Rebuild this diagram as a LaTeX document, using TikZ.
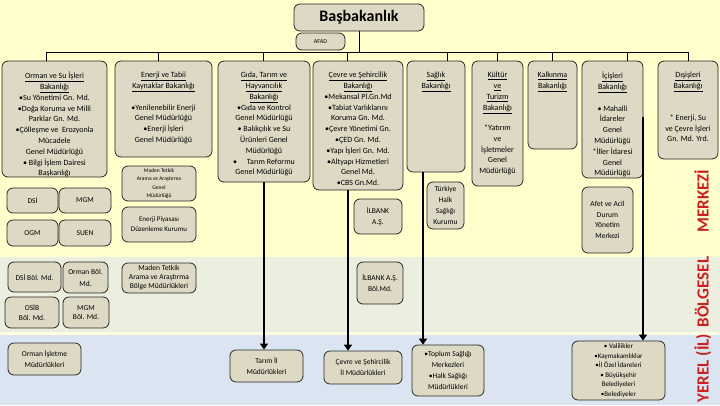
\documentclass[tikz,border=0pt]{standalone}
\usepackage{fontspec}
\setmainfont{Carlito}
\usetikzlibrary{arrows.meta}
\definecolor{bgY}{HTML}{FFFFCC}
\definecolor{bgG}{HTML}{ECEFE0}
\definecolor{bgB}{HTML}{DBE5F1}
\definecolor{bgL}{HTML}{FFFFE4}
\definecolor{boxF}{HTML}{DDD9C4}
\definecolor{lblR}{HTML}{CC2020}
\newcommand\uln[1]{\underline{#1}}
\begin{document}
\begin{tikzpicture}[x=1pt,y=-1pt,
  bx/.style={draw=black!85, fill=boxF, line width=0.8pt, rounded corners=6pt, inner sep=1pt, align=center, font=\fontsize{7.5}{9.5}\selectfont},
  txt/.style={inner sep=0pt, align=center, anchor=north, font=\fontsize{8}{10.8}\selectfont},
  bus/.style={draw=black, line width=0.8pt},
  flow/.style={draw=black, line width=2.6pt, -{Triangle[width=8pt,length=6pt]}},
  side/.style={rotate=90, anchor=base, text=lblR, font=\fontsize{17}{17}\selectfont\bfseries, inner sep=0pt}]
\useasboundingbox (0,0) rectangle (720,405);
% bands
\fill[bgY] (0,0) rectangle (720,257);
\fill[bgG] (0,257) rectangle (720,333);
\fill[bgB] (0,333) rectangle (720,405);
\fill[bgL] (0,332) rectangle (720,334.5);

% top
\node[bx, minimum width=130pt, minimum height=27pt, font=\fontsize{16}{16}\selectfont\bfseries] (basb) at (359,17.5) {Başbakanlık};
\node[bx, minimum width=49pt, minimum height=17pt, font=\fontsize{6}{7}\selectfont] (afad) at (320.5,41.5) {AFAD};

% ministries
\node[bx, minimum width=105pt, minimum height=116pt] (orman) at (54.5,119) {};
\node[bx, minimum width=97pt, minimum height=96pt] (enerji) at (163.5,109) {};
\node[bx, minimum width=92pt, minimum height=121pt] (gida) at (264,121.5) {};
\node[bx, minimum width=90pt, minimum height=129pt] (cevre) at (358,125.5) {};
\node[bx, minimum width=58pt, minimum height=111pt] (saglik) at (436,116.5) {};
\node[bx, minimum width=51pt, minimum height=125pt] (kultur) at (497.5,123.5) {};
\node[bx, minimum width=49pt, minimum height=88pt] (kalk) at (552.5,105) {};
\node[bx, minimum width=61pt, minimum height=117pt] (icis) at (612.5,119.5) {};
\node[bx, minimum width=60pt, minimum height=98pt] (disis) at (688,110) {};

\node[txt] (orman-t) at (54.5,72) {\uln{Orman ve Su İşleri}\\\uln{Bakanlığı}\\•Su Yönetimi Gn. Md.\\•Doğa Koruma ve Milli\\Parklar Gn. Md.\\•Çölleşme ve \ Erozyonla\\Mücadele\\Genel Müdürlüğü\\• Bilgi İşlem Dairesi\\Başkanlığı};
\node[txt] (enerji-t) at (163.5,72) {\uln{Enerji ve Tabii}\\\uln{Kaynaklar Bakanlığı}\\[10.8pt]•Yenilenebilir Enerji\\Genel Müdürlüğü\\•Enerji İşleri\\Genel Müdürlüğü};
\node[txt] (gida-t) at (264,72) {\uln{Gıda, Tarım ve}\\\uln{Hayvancılık}\\\uln{Bakanlığı}\\•Gıda ve Kontrol\\Genel Müdürlüğü\\• Balıkçılık ve Su\\Ürünleri Genel\\Müdürlüğü\\• \quad Tarım Reformu\\Genel Müdürlüğü};
\node[txt] (cevre-t) at (358,72) {\uln{Çevre ve Şehircilik}\\\uln{Bakanlığı}\\•Mekansal Pl.Gn.Md\\•Tabiat Varlıklarını\\Koruma Gn. Md.\\•Çevre Yönetimi Gn.\\•ÇED Gn. Md.\\•Yapı İşleri Gn. Md.\\•Altyapı Hizmetleri\\Genel Md.\\•CBS Gn.Md.};
\node[txt] (saglik-t) at (436,72) {\uln{Sağlık}\\\uln{Bakanlığı}};
\node[txt] (kultur-t) at (497.5,72) {\uln{Kültür}\\\uln{ve}\\\uln{Turizm}\\\uln{Bakanlığı}\\[9.5pt]*Yatırım\\ve\\İşletmeler\\Genel\\Müdürlüğü};
\node[txt] (kalk-t) at (552.5,72) {\uln{Kalkınma}\\\uln{Bakanlığı}};
\node[txt] (icis-t) at (612.5,72) {\uln{İçişleri}\\\uln{Bakanlığı}\\[10.8pt]• Mahalli\\İdareler\\Genel\\Müdürlüğü\\*İller İdaresi\\Genel\\Müdürlüğü};
\node[txt] (disis-t) at (688,72) {\uln{Dışişleri}\\\uln{Bakanlığı}\\[21pt]* Enerji, Su\\ve Çevre İşleri\\Gn. Md. Yrd.};

% second tier
\node[bx, minimum width=74pt, minimum height=35pt, font=\fontsize{5.5}{8.5}\selectfont] (maden1) at (159,183.5) {Maden Tetkik\\Arama ve Araştırma\\Genel\\Müdürlüğü};
\node[bx, minimum width=74pt, minimum height=35pt, font=\fontsize{7}{10}\selectfont] (epdk) at (159,224.5) {Enerji Piyasası\\Düzenleme Kurumu};
\node[bx, minimum width=74pt, minimum height=30pt, font=\fontsize{7.5}{9}\selectfont] (maden2) at (159,278) {Maden Tetkik\\Arama ve Araştırma\\Bölge Müdürlükleri};
\node[bx, minimum width=51pt, minimum height=25pt] (dsi) at (32.5,200.5) {DSİ};
\node[bx, minimum width=52pt, minimum height=25pt] (mgm) at (85,200.5) {MGM};
\node[bx, minimum width=51pt, minimum height=26pt] (ogm) at (32.5,233) {OGM};
\node[bx, minimum width=52pt, minimum height=26pt] (suen) at (85,233) {SUEN};
\node[bx, minimum width=53pt, minimum height=30pt] (dsib) at (34.5,277) {DSİ Böl. Md.};
\node[bx, minimum width=45pt, minimum height=31pt, font=\fontsize{7.5}{12}\selectfont] (ormanb) at (85.5,277.5) {Orman Böl.\\Md.};
\node[bx, minimum width=54pt, minimum height=31pt] (osib) at (32,312.5) {OSİB\\Böl. Md.};
\node[bx, minimum width=46pt, minimum height=31pt] (mgmb) at (86,312.5) {MGM\\Böl. Md.};
\node[bx, minimum width=73pt, minimum height=32pt, font=\fontsize{7.5}{11}\selectfont] (ormanis) at (44.5,359) {Orman İşletme\\Müdürlükleri};
\node[bx, minimum width=73pt, minimum height=32pt, font=\fontsize{7.5}{11}\selectfont] (tarim) at (266.5,366) {Tarım İl\\Müdürlükleri};
\node[bx, minimum width=78pt, minimum height=33pt, font=\fontsize{7.5}{11}\selectfont] (cevreil) at (363,367.5) {Çevre ve Şehircilik\\İl Müdürlükleri};
\node[bx, minimum width=72pt, minimum height=51pt, font=\fontsize{7.5}{11}\selectfont] (toplum) at (448,370.5) {•Toplum Sağlığı\\Merkezleri\\•Halk Sağlığı\\Müdürlükleri};
\node[bx, minimum width=93pt, minimum height=59pt, font=\fontsize{7}{9.5}\selectfont] (vali) at (618.5,370.5) {• Valilikler\\•Kaymakamlıklar\\•İl Özel İdareleri\\• Büyükşehir\\Belediyeleri\\•Belediyeler};
\node[bx, minimum width=48pt, minimum height=35pt, font=\fontsize{7.5}{11}\selectfont] (ilbank) at (378,216.5) {İLBANK\\A.Ş.};
\node[bx, minimum width=46pt, minimum height=42pt, font=\fontsize{7.5}{10.5}\selectfont] (ilbankb) at (380,283) {İLBANK A.Ş.\\Böl.Md.};
\node[bx, minimum width=37pt, minimum height=47pt, font=\fontsize{7.5}{11}\selectfont] (thsk) at (445.5,205.5) {Türkiye\\Halk\\Sağlığı\\Kurumu};
\node[bx, minimum width=51pt, minimum height=66pt, font=\fontsize{7.5}{10.8}\selectfont] (afet) at (607.5,220) {Afet ve Acil\\Durum\\Yönetim\\Merkezi};

% bus
\coordinate (d1) at (46,52);
\coordinate (d2) at (158,52);
\coordinate (d3) at (263,52);
\coordinate (d4) at (347,52);
\coordinate (d5) at (447,52);
\coordinate (d6) at (497,52);
\coordinate (d7) at (552,52);
\coordinate (d8) at (627,52);
\coordinate (d9) at (688,52);
\draw[bus] (basb.south) -- (basb.south |- d1);
\draw[bus] (d1) -- (d9);
\draw[bus] (d1) -- (d1 |- orman.north);
\draw[bus] (d2) -- (d2 |- enerji.north);
\draw[bus] (d3) -- (d3 |- gida.north);
\draw[bus] (d4) -- (d4 |- cevre.north);
\draw[bus] (d5) -- (d5 |- saglik.north);
\draw[bus] (d6) -- (d6 |- kultur.north);
\draw[bus] (d7) -- (d7 |- kalk.north);
\draw[bus] (d8) -- (d8 |- icis.north);
\draw[bus] (d9) -- (d9 |- disis.north);

% thick arrows
\coordinate (ca) at (348,0);
\coordinate (sa) at (423,0);
\coordinate (ia) at (643,117);
\draw[flow] (gida.south) -- (gida.south |- tarim.north);
\draw[flow] (ca |- cevre.south) -- (ca |- cevreil.north);
\draw[flow] (sa |- saglik.south) -- (sa |- toplum.north);
\draw[flow] (ia) -- (ia |- vali.north);

% side labels
\node[side] (lmer) at (708.5,201) {MERKEZİ};
\node[side] (lbol) at (708.5,292) {BÖLGESEL};
\node[side] (lyer) at (708.5,368) {YEREL (İL)};
\end{tikzpicture}
\end{document}
